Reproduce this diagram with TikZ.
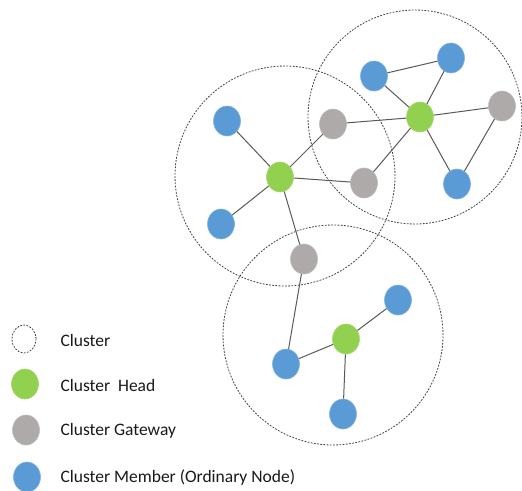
\documentclass[tikz,border=0pt]{standalone}
\usepackage{fontspec}
\setmainfont{Carlito}
\usepackage{xcolor}
\definecolor{cHead}{HTML}{92D050}
\definecolor{cGate}{HTML}{AEAAAA}
\definecolor{cMember}{HTML}{5B9BD5}
\definecolor{cLink}{HTML}{595959}
\definecolor{cRing}{HTML}{404040}
\usepackage{tikz}
\usetikzlibrary{positioning,shapes.geometric}
\tikzset{
  node-base/.style={ellipse,inner sep=0pt,minimum width=27pt,minimum height=30pt},
  node-head/.style={node-base,fill=cHead,draw=cHead!80!white,line width=0.6pt},
  node-gate/.style={node-base,fill=cGate,draw=cGate!80!white,line width=0.6pt},
  node-member/.style={node-base,fill=cMember,draw=cMember!75!white,line width=0.6pt},
  cluster-ring/.style={circle,draw=cRing,line width=0.8pt,dash pattern=on 1.8pt off 1.4pt,inner sep=0pt},
  link/.style={draw=cLink,line width=1pt},
  legend-text/.style={anchor=west,text=black!90,font=\fontsize{17.5}{21}\selectfont},
}
\begin{document}
\begin{tikzpicture}[x=1pt,y=-1pt]
  \useasboundingbox (0,0) rectangle (522,490);
  % clusters
  \node[cluster-ring,minimum size=214pt] (ring-top) at (415,117) {};
  \node[cluster-ring,minimum size=220pt] (ring-left) at (285,176) {};
  \node[cluster-ring,minimum size=220pt] (ring-bottom) at (333,335) {};
  % left cluster
  \node[node-head] (head-l) at (280,177) {};
  \node[node-member] (mem-l1) at (227,121) {};
  \node[node-member] (mem-l2) at (221,224) {};
  \node[node-gate] (gate-1) at (333,124) {};
  \node[node-gate] (gate-2) at (364,183) {};
  \node[node-gate] (gate-3) at (304,259) {};
  % top-right cluster
  \node[node-head] (head-r) at (420,117) {};
  \node[node-member] (mem-r1) at (374,76) {};
  \node[node-member] (mem-r2) at (451,58) {};
  \node[node-gate] (gate-4) at (502,106) {};
  \node[node-member] (mem-r3) at (457,184) {};
  % bottom cluster
  \node[node-head] (head-b) at (346,339) {};
  \node[node-member] (mem-b1) at (398,300) {};
  \node[node-member] (mem-b2) at (286,364) {};
  \node[node-member] (mem-b3) at (343,414) {};
  % links
  \draw[link] (head-l) -- (mem-l1);
  \draw[link] (head-l) -- (mem-l2);
  \draw[link] (head-l) -- (gate-1);
  \draw[link] (head-l) -- (gate-2);
  \draw[link] (head-l) -- (gate-3);
  \draw[link] (head-r) -- (mem-r1);
  \draw[link] (head-r) -- (mem-r2);
  \draw[link] (head-r) -- (gate-1);
  \draw[link] (head-r) -- (gate-2);
  \draw[link] (head-r) -- (gate-4);
  \draw[link] (head-r) -- (mem-r3);
  \draw[link] (mem-r1) -- (mem-r2);
  \draw[link] (gate-4) -- (mem-r3);
  \draw[link] (gate-3) -- (mem-b2);
  \draw[link] (head-b) -- (mem-b2);
  \draw[link] (head-b) -- (mem-b1);
  \draw[link] (head-b) -- (mem-b3);
  % legend
  \node[cluster-ring,ellipse,minimum width=24pt,minimum height=28pt] (key-cluster) at (24,339) {};
  \node[node-head] (key-head) at (25,384) {};
  \node[node-gate] (key-gate) at (26,430) {};
  \node[node-member] (key-member) at (27,477) {};
  \node[legend-text] (txt-cluster) at (57,340) {Cluster};
  \node[legend-text] (txt-head) at (57,385) {Cluster\ \ Head};
  \node[legend-text] (txt-gate) at (57,431) {Cluster Gateway};
  \node[legend-text] (txt-member) at (57,478) {Cluster Member (Ordinary Node)};
\end{tikzpicture}
\end{document}
